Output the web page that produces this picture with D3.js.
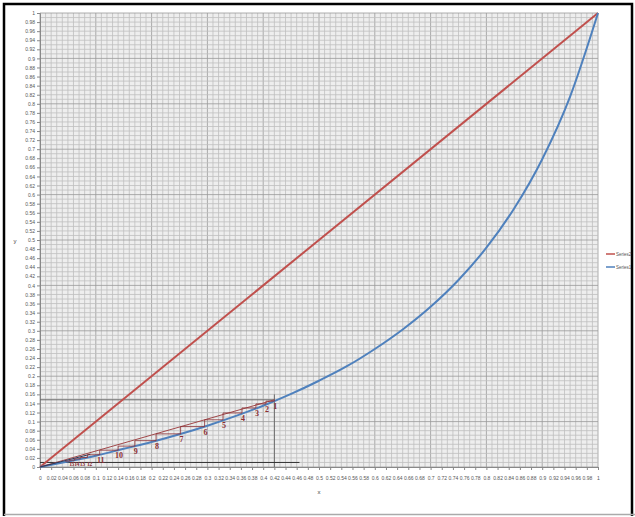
<!DOCTYPE html>
<html>
<head>
<meta charset="utf-8">
<script src="https://cdn.jsdelivr.net/npm/d3@7"></script>
<style>
  body { margin: 0; background: #fff; }
  svg { display: block; font-family: "Liberation Sans", Arial, sans-serif; }
</style>
</head>
<body>
<svg id="chart" width="635" height="517"></svg>
<script>
// equilibrium curve (Series1)
const eqX = [0, 0.05, 0.1, 0.15, 0.2, 0.25, 0.3, 0.35, 0.4, 0.45, 0.5, 0.55, 0.6, 0.65, 0.7, 0.75, 0.8, 0.85, 0.9, 0.95, 1];
const eqY = [0, 0.012, 0.025, 0.04, 0.055, 0.072, 0.091, 0.112, 0.135, 0.161, 0.19, 0.222, 0.26, 0.303, 0.353, 0.412, 0.483, 0.57, 0.678, 0.816, 1];

// diagonal (Series2)
const diagX = [0, 1];
const diagY = [0, 1];

// operating line and stage construction
const opLine = [[0, 0], [0.42, 0.148]];
const stepX = [0.42, 0.405, 0.387, 0.362, 0.328, 0.295, 0.252, 0.208, 0.17, 0.14, 0.107, 0.085, 0.072, 0.062, 0.053, 0.045];
const stepY = [0.145, 0.139, 0.13, 0.119, 0.104, 0.089, 0.073, 0.058, 0.046, 0.037, 0.027, 0.021, 0.018, 0.015, 0.013, 0.011];
const stepLabels = ["1", "2", "3", "4", "5", "6", "7", "8", "9", "10", "11", "12", "13", "14", "15"];
const startY = 0.148;

// helper guide lines
const guideH = [[0, 0.148], [0.42, 0.148]];
const guideV = [[0.42, 0], [0.42, 0.16]];
const guideLow = [[0, 0.01], [0.465, 0.01]];

const legendNames = ["Series2", "Series1"];
const legendColors = ["#c0504d", "#4f81bd"];

const margin = {top: 13, left: 40};
const width = 558, height = 454;

const svg = d3.select("#chart");

// frame of the screenshot
svg.append("rect").attr("x", 0).attr("y", 0).attr("width", 635).attr("height", 517).attr("fill", "#fff");
svg.append("path").attr("d", "M4,516 V4 H632 V516").attr("fill", "none").attr("stroke", "#000").attr("stroke-width", 2.5);
svg.append("line").attr("x1", 4).attr("x2", 635).attr("y1", 514.5).attr("y2", 514.5).attr("stroke", "#aaa").attr("stroke-width", 1.5);

const g = svg.append("g").attr("transform", `translate(${margin.left},${margin.top})`);

const x = d3.scaleLinear().domain([0, 1]).range([0, width]);
const y = d3.scaleLinear().domain([0, 1]).range([height, 0]);

g.append("rect").attr("width", width).attr("height", height).attr("fill", "#eeeeee");

// dense grid
const fine = d3.range(0, 101).map(i => i / 100);
g.append("g").selectAll("line").data(fine).enter().append("line")
    .attr("x1", d => x(d)).attr("x2", d => x(d))
    .attr("y1", 0).attr("y2", height)
    .attr("stroke", (d, i) => i % 10 === 0 ? "#999" : "#bfbfbf")
    .attr("stroke-width", 0.8);
g.append("g").selectAll("line").data(fine).enter().append("line")
    .attr("y1", d => y(d)).attr("y2", d => y(d))
    .attr("x1", 0).attr("x2", width)
    .attr("stroke", (d, i) => i % 10 === 0 ? "#999" : "#bfbfbf")
    .attr("stroke-width", 0.8);

// axes
const ticks = d3.range(0, 51).map(i => i / 50);
const fmt = d => String(+d.toFixed(2));

const axisY = g.append("g").call(d3.axisLeft(y).tickValues(ticks).tickFormat(fmt).tickSize(3).tickPadding(2));
const axisX = g.append("g").attr("transform", `translate(0,${height})`)
    .call(d3.axisBottom(x).tickValues(ticks).tickFormat(fmt).tickSize(3).tickPadding(6));
[axisX, axisY].forEach(a => {
    a.select(".domain").attr("stroke", "#888");
    a.selectAll(".tick line").attr("stroke", "#888");
    a.selectAll("text").attr("font-size", 5).attr("fill", "#555");
});

svg.append("text").attr("x", 319).attr("y", 494).attr("font-size", 6).attr("fill", "#444").attr("text-anchor", "middle").text("x");
svg.append("text").attr("x", 15).attr("y", 243).attr("font-size", 6).attr("fill", "#444").attr("text-anchor", "middle").text("y");

const line = d3.line().x(d => x(d[0])).y(d => y(d[1]));
const curve = d3.line().x(d => x(d[0])).y(d => y(d[1])).curve(d3.curveMonotoneX);

// guide lines
[guideH, guideV].forEach(p => g.append("path").attr("d", line(p)).attr("fill", "none").attr("stroke", "#6b6b6b").attr("stroke-width", 1));
g.append("path").attr("d", line(guideLow)).attr("fill", "none").attr("stroke", "#333").attr("stroke-width", 1);

// series
g.append("path").attr("d", line(diagX.map((v, i) => [v, diagY[i]])))
    .attr("fill", "none").attr("stroke", legendColors[0]).attr("stroke-width", 2);
g.append("path").attr("d", curve(eqX.map((v, i) => [v, eqY[i]])))
    .attr("fill", "none").attr("stroke", legendColors[1]).attr("stroke-width", 2);

// operating line
g.append("path").attr("d", line(opLine)).attr("fill", "none").attr("stroke", "#a0484a").attr("stroke-width", 1);
g.append("path").attr("d", line([[0, 0], [0.09, 0.028]])).attr("fill", "none").attr("stroke", "#2c3a5c").attr("stroke-width", 1);

// stage steps
const steps = [];
let prevY = startY;
for (let i = 0; i < stepLabels.length; i++) {
    steps.push([stepX[i], prevY], [stepX[i], stepY[i]], [stepX[i + 1], stepY[i]]);
    prevY = stepY[i];
}
g.append("path").attr("d", line(steps)).attr("fill", "none").attr("stroke", "#8b2e33").attr("stroke-width", 0.8);

g.append("g").selectAll("text").data(stepLabels).enter().append("text")
    .attr("x", (d, i) => x(stepX[i]) + (i > 10 ? 2 : 1))
    .attr("y", (d, i) => i > 10 ? y(0.003) : y(stepY[i]) + 8)
    .attr("text-anchor", "middle")
    .attr("font-family", "'Liberation Serif', serif")
    .attr("font-size", (d, i) => i > 10 ? 5.5 : 8)
    .attr("letter-spacing", (d, i) => i > 10 ? -0.4 : 0)
    .attr("font-weight", "bold")
    .attr("fill", "#8b2e33")
    .text(d => d);

// legend
const legend = svg.append("g").selectAll("g").data(legendNames).enter().append("g")
    .attr("transform", (d, i) => `translate(606,${254 + i * 13})`);
legend.append("line").attr("x1", 0).attr("x2", 9).attr("stroke", (d, i) => legendColors[i]).attr("stroke-width", 1.5);
legend.append("text").attr("x", 10).attr("y", 1.8).attr("font-size", 4.5).attr("fill", "#555").text(d => d);
</script>
</body>
</html>
